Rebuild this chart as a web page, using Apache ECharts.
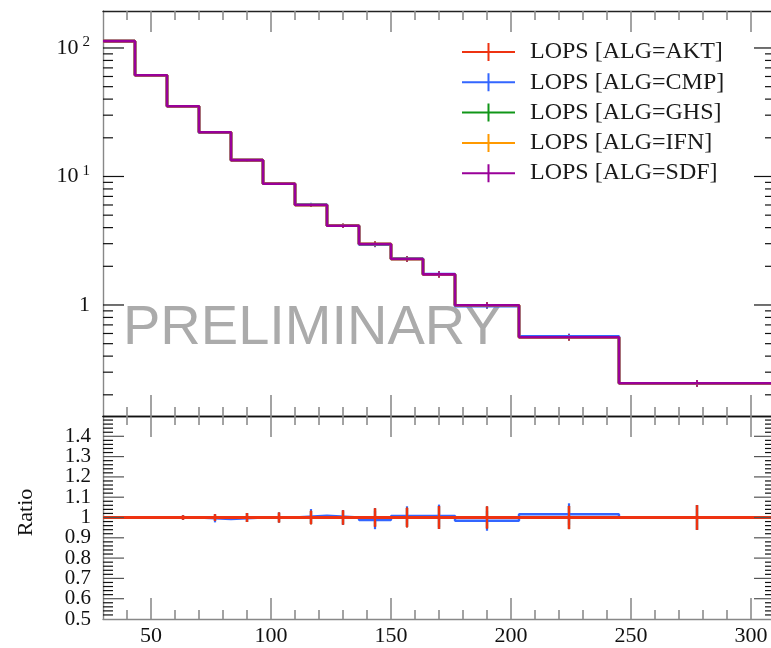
<!DOCTYPE html>
<html>
<head>
<meta charset="utf-8">
<script src="https://cdn.jsdelivr.net/npm/echarts@6/dist/echarts.min.js"></script>
<style>
  html, body { margin: 0; padding: 0; background: #ffffff; }
  #chart { width: 771px; height: 648px; }
</style>
</head>
<body>
<div id="chart"></div>
<script>
// Histogram binning (bin edges along x)
const binEdges = [30, 43.33, 56.67, 70, 83.33, 96.67, 110, 123.33, 136.67, 150, 163.33, 176.67, 203.33, 245, 310];

// Generator labels
const seriesNames = ['LOPS [ALG=AKT]', 'LOPS [ALG=CMP]', 'LOPS [ALG=GHS]', 'LOPS [ALG=IFN]', 'LOPS [ALG=SDF]'];

// Bin contents per generator
const valuesAKT = [113, 61.3, 35.2, 22.1, 13.4, 8.79, 6.0, 4.14, 2.98, 2.28, 1.73, 0.995, 0.561, 0.246];
const valuesCMP = [113, 61.3, 35.2, 21.92, 13.4, 8.79, 6.05, 4.14, 2.944, 2.298, 1.744, 0.979, 0.570, 0.246];
const valuesGHS = [113, 61.3, 35.2, 22.1, 13.4, 8.79, 6.0, 4.14, 2.98, 2.28, 1.73, 0.995, 0.561, 0.246];
const valuesIFN = [113, 61.3, 35.2, 22.1, 13.4, 8.79, 6.0, 4.14, 2.98, 2.28, 1.73, 0.995, 0.561, 0.246];
const valuesSDF = [113, 61.3, 35.2, 22.1, 13.4, 8.79, 6.0, 4.14, 2.98, 2.28, 1.73, 0.995, 0.561, 0.246];

// Relative statistical uncertainties per bin
const relErrAKT = [0.003, 0.005, 0.010, 0.016, 0.022, 0.024, 0.033, 0.035, 0.045, 0.048, 0.056, 0.054, 0.057, 0.061];
const relErrCMP = [0.003, 0.005, 0.010, 0.016, 0.022, 0.024, 0.033, 0.035, 0.046, 0.047, 0.055, 0.050, 0.053, 0.061];
const relErrGHS = [0.003, 0.005, 0.010, 0.016, 0.022, 0.024, 0.033, 0.035, 0.045, 0.048, 0.056, 0.054, 0.057, 0.061];
const relErrIFN = [0.003, 0.005, 0.010, 0.016, 0.022, 0.024, 0.033, 0.035, 0.045, 0.048, 0.056, 0.054, 0.057, 0.061];
const relErrSDF = [0.003, 0.005, 0.010, 0.016, 0.022, 0.024, 0.033, 0.035, 0.045, 0.048, 0.056, 0.054, 0.057, 0.061];

// Tick labels
const xTickLabels = [50, 100, 150, 200, 250, 300];
const ratioTickLabels = [0.5, 0.6, 0.7, 0.8, 0.9, 1.0, 1.1, 1.2, 1.3, 1.4];

// ---------------------------------------------------------------------------
const allValues = [valuesAKT, valuesCMP, valuesGHS, valuesIFN, valuesSDF];
const allErrors = [relErrAKT, relErrCMP, relErrGHS, relErrIFN, relErrSDF];
const colors = ['#EE3311', '#3366FF', '#109618', '#FF9900', '#990099'];

const X_MIN = 30, X_MAX = 310;
const Y_MIN = 0.1368, Y_MAX = 194;
const R_MIN = 0.5, R_MAX = 1.5;
const serif = 'Liberation Serif';

const binCentres = binEdges.slice(0, -1).map((e, i) => (e + binEdges[i + 1]) / 2);

function stepPoints(vals) {
  return binEdges.map((e, i) => [e, vals[Math.min(i, vals.length - 1)]]);
}

function errorRenderer(color, width) {
  return function (params, api) {
    const p1 = api.coord([api.value(0), api.value(2)]);
    const p2 = api.coord([api.value(0), api.value(3)]);
    return {
      type: 'line',
      shape: { x1: p1[0], y1: p1[1], x2: p2[0], y2: p2[1] },
      style: { stroke: color, lineWidth: width }
    };
  };
}

// Tick marks drawn on all four sides of a panel
function tickRenderer(refX, refY, majorColorY) {
  return function (params, api) {
    const cs = params.coordSys;
    const dim = api.value(0), v = api.value(1), len = api.value(2);
    if (dim === 0) {
      const px = api.coord([v, refY])[0];
      const st = { stroke: '#8c8c8c', lineWidth: 1.6 };
      return { type: 'group', children: [
        { type: 'line', shape: { x1: px, y1: cs.y, x2: px, y2: cs.y + len }, style: st },
        { type: 'line', shape: { x1: px, y1: cs.y + cs.height, x2: px, y2: cs.y + cs.height - len }, style: st }
      ]};
    }
    const py = api.coord([refX, v])[1];
    const st = { stroke: len > 15 ? majorColorY : '#111111', lineWidth: 1.2 };
    return { type: 'group', children: [
      { type: 'line', shape: { x1: cs.x, y1: py, x2: cs.x + len, y2: py }, style: st },
      { type: 'line', shape: { x1: cs.x + cs.width, y1: py, x2: cs.x + cs.width - len, y2: py }, style: st }
    ]};
  };
}

const xTicks = [];
for (let v = 40; v <= 300; v += 10) xTicks.push([0, v, v % 50 === 0 ? 21 : 9]);
const logTicks = [];
for (let k = -1; k <= 2; k++) {
  for (let m = 1; m <= 9; m++) {
    const v = m * Math.pow(10, k);
    if (v > Y_MIN && v < Y_MAX) logTicks.push([1, v, m === 1 ? 21 : 10]);
  }
}
const ratioTicks = [];
for (let i = 26; i <= 74; i++) ratioTicks.push([1, i / 50, i % 5 === 0 ? 21 : 10]);

const series = [];

// Upper panel: histograms and error bars
allValues.forEach((vals, s) => {
  series.push({
    name: seriesNames[s], type: 'line', step: 'end',
    xAxisIndex: 0, yAxisIndex: 0,
    data: stepPoints(vals), showSymbol: false, symbol: 'none',
    lineStyle: { color: colors[s], width: 2.6 }, itemStyle: { color: colors[s] },
    z: 2, animation: false, silent: true
  });
  series.push({
    name: seriesNames[s], type: 'custom',
    xAxisIndex: 0, yAxisIndex: 0,
    data: vals.map((v, i) => [binCentres[i], v, v * (1 - allErrors[s][i]), v * (1 + allErrors[s][i])]),
    renderItem: errorRenderer(colors[s], 1.6),
    itemStyle: { color: colors[s] }, z: 2, animation: false, silent: true
  });
});

// Lower panel: ratios to the first generator (reference drawn on top)
allValues.forEach((vals, s) => {
  const ratio = vals.map((v, i) => v / valuesAKT[i]);
  const zz = s === 0 ? 4 : 3;
  series.push({
    name: seriesNames[s], type: 'line', step: 'end',
    xAxisIndex: 3, yAxisIndex: 1,
    data: stepPoints(ratio), showSymbol: false, symbol: 'none',
    lineStyle: { color: colors[s], width: s === 0 ? 3.2 : 2.4 }, itemStyle: { color: colors[s] },
    z: zz, animation: false, silent: true
  });
  series.push({
    name: seriesNames[s], type: 'custom',
    xAxisIndex: 3, yAxisIndex: 1,
    data: ratio.map((r, i) => [binCentres[i], r, r * (1 - allErrors[s][i]), r * (1 + allErrors[s][i])]),
    renderItem: errorRenderer(colors[s], 2.2),
    itemStyle: { color: colors[s] }, z: zz, animation: false, silent: true
  });
});

// Frame ticks
series.push({
  type: 'custom', xAxisIndex: 0, yAxisIndex: 0,
  data: xTicks.concat(logTicks), renderItem: tickRenderer(100, 1, '#111111'),
  z: 6, animation: false, silent: true
});
series.push({
  type: 'custom', xAxisIndex: 3, yAxisIndex: 1,
  data: xTicks.concat(ratioTicks), renderItem: tickRenderer(100, 1, '#555555'),
  z: 6, animation: false, silent: true
});

function hiddenX(grid, position, lineColor) {
  return {
    type: 'value', gridIndex: grid, position: position, min: X_MIN, max: X_MAX,
    axisLine: { show: true, lineStyle: { color: lineColor, width: 1.4 } },
    axisTick: { show: false }, axisLabel: { show: false }, splitLine: { show: false }
  };
}

// Ratio labels are spread over two overlaid axes so that none of them is dropped
function ratioLabelAxis(values, withLine, withName) {
  const axis = {
    type: 'value', gridIndex: 1, position: 'left', min: R_MIN, max: R_MAX,
    axisLine: { show: withLine, lineStyle: { color: '#888888', width: 1.4 } },
    axisTick: { show: false }, splitLine: { show: false },
    axisLabel: {
      customValues: values, margin: 12,
      fontFamily: serif, fontSize: 21, color: '#111111',
      formatter: function (v) { return Math.abs(v - 1) < 1e-9 ? '1' : v.toFixed(1); }
    }
  };
  if (withName) {
    axis.name = 'Ratio';
    axis.nameLocation = 'middle';
    axis.nameRotate = 90;
    axis.nameGap = 66;
    axis.nameTextStyle = { fontFamily: serif, fontSize: 22, color: '#111111', padding: [0, 0, 0, 10] };
  }
  return axis;
}

const option = {
  backgroundColor: '#ffffff',
  animation: false,
  color: colors,
  grid: [
    { left: 103, right: -4, top: 11, height: 405, containLabel: false, outerBoundsMode: 'none' },
    { left: 103, right: -4, top: 416, height: 203, containLabel: false, outerBoundsMode: 'none' }
  ],
  xAxis: [
    hiddenX(0, 'bottom', '#111111'),
    hiddenX(0, 'top', '#222222'),
    hiddenX(1, 'top', '#111111'),
    {
      type: 'value', gridIndex: 1, position: 'bottom', min: X_MIN, max: X_MAX,
      axisLine: { show: true, lineStyle: { color: '#888888', width: 1.4 } },
      axisTick: { show: false }, splitLine: { show: false },
      axisLabel: {
        customValues: xTickLabels, margin: 6,
        fontFamily: serif, fontSize: 22, color: '#111111'
      }
    }
  ],
  yAxis: [
    {
      type: 'log', logBase: 10, gridIndex: 0, position: 'left', min: Y_MIN, max: Y_MAX,
      axisLine: { show: true, lineStyle: { color: '#888888', width: 1.4 } },
      axisTick: { show: false }, splitLine: { show: false },
      axisLabel: {
        margin: 13, showMinLabel: false, showMaxLabel: false,
        formatter: function (v) {
          const e = Math.round(Math.log10(v));
          return e === 0 ? '{b|1}' : '{b|10}{e|' + e + '}';
        },
        rich: {
          b: { fontFamily: serif, fontSize: 22, color: '#111111', lineHeight: 26 },
          e: { fontFamily: serif, fontSize: 15, color: '#111111', verticalAlign: 'top', padding: [0, 0, 0, 4] }
        }
      }
    },
    ratioLabelAxis(ratioTickLabels.filter((v, i) => i % 2 === 0), true, true),
    ratioLabelAxis(ratioTickLabels.filter((v, i) => i % 2 === 1), false, false)
  ],
  legend: {
    orient: 'vertical', left: 462, top: 40, padding: 0,
    itemWidth: 53, itemHeight: 18, itemGap: 6.3,
    icon: 'path://M0,8L53,8L53,10L0,10Z M25.5,0L27.5,0L27.5,18L25.5,18Z',
    data: seriesNames,
    selectedMode: false,
    textStyle: { fontFamily: serif, fontSize: 24, color: '#1a1a1a', lineHeight: 24, padding: [0, 0, 0, 10] }
  },
  graphic: [{
    type: 'text', x: 123, y: 329, z: 1, silent: true,
    style: {
      text: 'PRELIMINARY', fill: '#ababab',
      font: '56px "Liberation Sans"', align: 'left', verticalAlign: 'middle'
    }
  }],
  series: series
};

const chart = echarts.init(document.getElementById('chart'), null, { renderer: 'canvas' });
chart.setOption(option);
</script>
</body>
</html>
